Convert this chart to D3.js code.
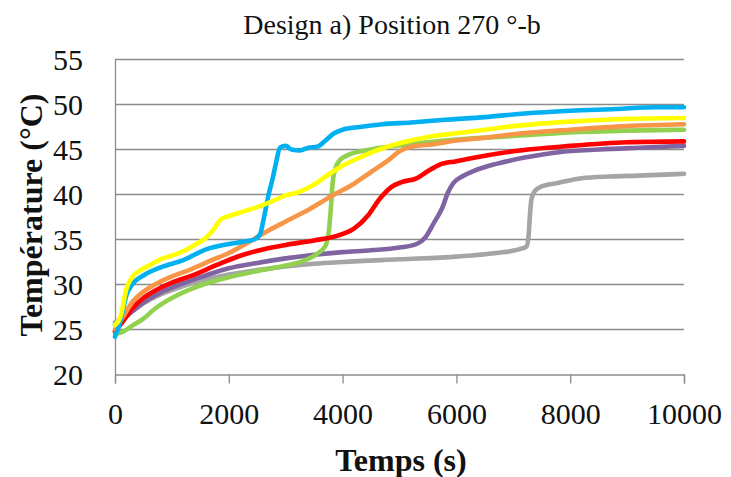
<!DOCTYPE html>
<html>
<head>
<meta charset="utf-8">
<script src="https://cdn.jsdelivr.net/npm/d3@7"></script>
<style>
  html, body { margin: 0; padding: 0; background: #fff; }
  svg { display: block; }
</style>
</head>
<body>
<svg id="chart" width="731" height="477"></svg>
<script>
// Temperature curves, [time (s), temperature (°C)]
const blue = [[0,24.2],[100,26],[200,28.8],[300,30],[500,31],[800,31.9],[1200,32.7],[1600,33.9],[2000,34.5],[2300,34.8],[2450,35],[2550,35.6],[2620,37.5],[2700,40],[2760,41.5],[2830,43.5],[2900,45.2],[3000,45.4],[3100,45],[3250,44.9],[3400,45.2],[3550,45.3],[3700,46],[3850,46.8],[4000,47.2],[4300,47.5],[4700,47.8],[5200,48],[5800,48.3],[6500,48.6],[7200,49],[8000,49.3],[8800,49.5],[9500,49.7],[10000,49.7]];
const yellow = [[0,25.5],[100,26.5],[200,29.5],[300,30.8],[450,31.6],[600,32.1],[800,32.8],[1000,33.2],[1200,33.7],[1400,34.4],[1600,35.2],[1750,36.3],[1850,37.2],[2000,37.6],[2250,38.1],[2500,38.6],[2750,39.2],[3000,39.9],[3200,40.2],[3500,41.1],[3750,42.2],[4000,43.2],[4300,44.1],[4600,44.9],[5000,45.7],[5500,46.4],[6000,46.8],[6500,47.2],[7000,47.6],[8000,48.1],[9000,48.4],[10000,48.5]];
const orange = [[0,25],[150,26.5],[300,28],[500,29.2],[700,30],[1000,30.9],[1300,31.6],[1700,32.7],[2000,33.5],[2400,34.9],[2700,36],[3000,37],[3400,38.3],[3800,39.8],[4200,41.2],[4500,42.5],[4800,43.8],[5000,44.8],[5200,45.3],[5600,45.6],[6000,46],[6500,46.3],[7000,46.7],[8000,47.2],[9000,47.6],[10000,47.8]];
const green = [[0,24.5],[150,24.8],[300,25.4],[500,26.2],[700,27.3],[1000,28.5],[1300,29.4],[1700,30.3],[2000,30.8],[2500,31.5],[3000,32.1],[3300,32.6],[3550,33.4],[3700,34.3],[3760,36],[3800,39],[3830,41.6],[3880,43],[3950,43.8],[4100,44.4],[4400,44.9],[4800,45.3],[5200,45.6],[6000,46.1],[7000,46.5],[8000,46.9],[9000,47.1],[10000,47.2]];
const red = [[0,24.8],[150,26],[300,27.3],[500,28.5],[700,29.3],[1000,30.2],[1400,31.1],[1800,32.2],[2200,33.2],[2600,33.9],[3000,34.4],[3500,34.9],[3900,35.4],[4200,36.2],[4450,37.7],[4650,39.5],[4850,40.8],[5050,41.4],[5300,41.8],[5500,42.6],[5700,43.3],[6000,43.7],[6500,44.3],[7000,44.8],[8000,45.4],[9000,45.8],[10000,45.9]];
const purple = [[0,25.5],[150,26.2],[300,27],[500,28],[800,29.1],[1100,29.9],[1500,30.8],[2000,31.8],[2500,32.4],[3000,32.9],[3500,33.3],[4000,33.6],[4500,33.8],[5000,34.1],[5300,34.5],[5450,35.2],[5600,36.8],[5750,38.5],[5850,40.2],[5950,41.3],[6100,42],[6300,42.6],[6700,43.4],[7200,44.1],[7800,44.7],[8500,45],[9200,45.2],[10000,45.4]];
const gray = [[0,25.8],[150,26.3],[300,27],[500,27.9],[800,28.9],[1100,29.6],[1500,30.4],[2000,31.1],[2500,31.6],[3000,32],[3500,32.3],[4000,32.5],[5000,32.8],[6000,33.1],[6700,33.5],[7100,33.9],[7230,34.2],[7270,35.5],[7290,37.5],[7320,39.5],[7380,40.4],[7500,40.9],[7800,41.3],[8200,41.8],[8700,42],[9200,42.1],[10000,42.3]];

const xTicks = [0, 2000, 4000, 6000, 8000, 10000];
const yTicks = [20, 25, 30, 35, 40, 45, 50, 55];

const titleText = "Design a) Position 270 °-b";
const xTitle = "Temps (s)";
const yTitle = "Température (°C)";

// drawing order: later series sit on top
const series = [
  { values: gray,   color: "#A5A5A5" },
  { values: purple, color: "#8064A2" },
  { values: green,  color: "#92D050" },
  { values: red,    color: "#FF0000" },
  { values: orange, color: "#F79646" },
  { values: blue,   color: "#00B0F0" },
  { values: yellow, color: "#FFFF00" }
];

const svg = d3.select("#chart");
const plot = { left: 115, right: 684, top: 59.5, bottom: 374.5 };
const font = "'Liberation Serif', 'Times New Roman', serif";

const x = d3.scaleLinear().domain([0, 10000]).range([plot.left, plot.right]);
const y = d3.scaleLinear().domain([20, 55]).range([plot.bottom, plot.top]);

// horizontal gridlines
svg.append("g")
  .selectAll("line")
  .data(yTicks.filter(v => v > 20))
  .join("line")
  .attr("x1", plot.left).attr("x2", plot.right)
  .attr("y1", d => y(d)).attr("y2", d => y(d))
  .attr("stroke", "#8c8c8c").attr("stroke-width", 1.3);

// y axis
const yAxis = svg.append("g")
  .attr("transform", `translate(${plot.left},0)`)
  .call(d3.axisLeft(y).tickValues(yTicks).tickSize(0).tickPadding(32));
yAxis.select(".domain").attr("stroke", "#8c8c8c").attr("stroke-width", 1.3);
yAxis.selectAll("text")
  .attr("font-family", font).attr("font-size", 30).attr("fill", "#111")
  .attr("dy", "0.34em");

// x axis
const xAxis = svg.append("g")
  .attr("transform", `translate(0,${plot.bottom})`)
  .call(d3.axisBottom(x).tickValues(xTicks).tickFormat(d3.format("d")).tickSize(9).tickPadding(19));
xAxis.select(".domain").attr("stroke", "#8c8c8c").attr("stroke-width", 1.3);
xAxis.selectAll(".tick line").attr("stroke", "#8c8c8c").attr("stroke-width", 1.3);
xAxis.selectAll("text")
  .attr("font-family", font).attr("font-size", 30).attr("fill", "#111");

// curves
const line = d3.line()
  .x(d => x(d[0]))
  .y(d => y(d[1]))
  .curve(d3.curveMonotoneX);

svg.append("g")
  .selectAll("path")
  .data(series)
  .join("path")
  .attr("d", d => line(d.values))
  .attr("fill", "none")
  .attr("stroke", d => d.color)
  .attr("stroke-width", 4.6)
  .attr("stroke-linejoin", "round")
  .attr("stroke-linecap", "round");

// titles
svg.append("text")
  .attr("x", 392).attr("y", 34)
  .attr("text-anchor", "middle")
  .attr("font-family", font).attr("font-size", 28).attr("fill", "#111")
  .text(titleText);

svg.append("text")
  .attr("x", 401).attr("y", 471)
  .attr("text-anchor", "middle")
  .attr("font-family", font).attr("font-size", 32).attr("font-weight", "bold").attr("fill", "#111")
  .text(xTitle);

svg.append("text")
  .attr("transform", "translate(42,215) rotate(-90)")
  .attr("text-anchor", "middle")
  .attr("font-family", font).attr("font-size", 32).attr("font-weight", "bold").attr("fill", "#111")
  .text(yTitle);
</script>
</body>
</html>
